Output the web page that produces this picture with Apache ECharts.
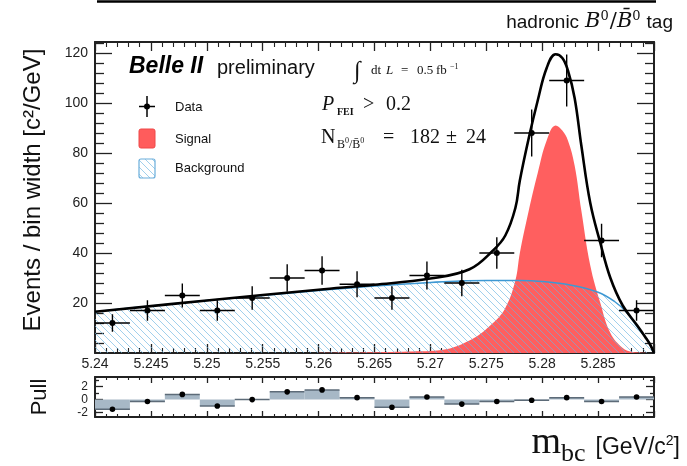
<!DOCTYPE html>
<html>
<head>
<meta charset="utf-8">
<script src="https://cdn.jsdelivr.net/npm/echarts@6/dist/echarts.min.js"></script>
<style>html,body{margin:0;background:#fff}#chart{width:687px;height:466px}</style>
</head>
<body>
<div id="chart"></div>
<script>
// m_bc histogram, 16 bins between 5.24 and 5.29 GeV/c^2
const binCenters = [5.24156, 5.24469, 5.24781, 5.25094, 5.25406, 5.25719, 5.26031, 5.26344,
  5.26656, 5.26969, 5.27281, 5.27594, 5.27906, 5.28219, 5.28531, 5.28844];
const binHalfWidth = 0.0015625;
const counts = [12, 17, 23, 17, 22, 30, 33, 27.5, 22, 31, 28, 40, 88, 109, 45, 17];
const countErrors = [3.5, 4.1, 4.8, 4.1, 4.7, 5.5, 5.7, 5.2, 4.7, 5.6, 5.3, 6.3, 9.4, 10.4, 6.7, 4.1];
const pulls = [-1.5, -0.3, 0.8, -1.0, 0.0, 1.2, 1.5, 0.3, -1.2, 0.4, -0.7, -0.3, -0.1, 0.3, -0.3, 0.4];

// fit curves
const bkgX = [5.24, 5.245, 5.25, 5.255, 5.26, 5.265, 5.27, 5.275, 5.278, 5.28, 5.2825, 5.285, 5.2865, 5.2875, 5.2885, 5.2892, 5.2897, 5.29];
const bkgY = [16.5, 18.8, 21.0, 23.0, 25.0, 26.8, 28.2, 29.0, 29.0, 28.6, 27.2, 24.3, 20.5, 16.5, 10.5, 6.5, 3.0, 0];
const sigX = [5.26, 5.265, 5.268, 5.2706, 5.2735, 5.2756, 5.2767, 5.2776, 5.278, 5.2788, 5.2796, 5.2804, 5.2812,
  5.2818, 5.2823, 5.2829, 5.2835, 5.2843, 5.2852, 5.2861, 5.2872, 5.288, 5.29];
const sigY = [0.1, 0.3, 0.6, 1.0, 5.0, 12.0, 18.0, 29.0, 40.0, 57.0, 72.0, 85.0, 91.0, 89.0, 85.0, 75.0, 57.0, 35.0, 20.0, 8.0, 2.0, 0.5, 0];
const totX = [5.24, 5.25, 5.26, 5.265, 5.27, 5.2735, 5.2756, 5.2767, 5.2776, 5.278, 5.2788, 5.2796, 5.2804, 5.2812,
  5.2818, 5.2823, 5.2829, 5.2835, 5.2843, 5.2852, 5.2861, 5.2872, 5.2885, 5.2892, 5.2897, 5.29];
const totY = [16.5, 21.0, 25.3, 27.3, 29.8, 33.5, 41.0, 47.0, 58.0, 69.0, 86.0, 101.0, 114.0, 119.5,
  118.0, 113.0, 102.0, 83.0, 60.0, 44.0, 30.0, 19.0, 11.0, 6.5, 3.0, 0];

// tick positions
const yMajor = [20, 40, 60, 80, 100, 120];
const yMinor = [4, 8, 12, 16, 24, 28, 32, 36, 44, 48, 52, 56, 64, 68, 72, 76, 84, 88, 92, 96, 104, 108, 112, 116, 124];
const pullMajor = [-2, 0, 2];
const pullMinor = [-1, 1, 3];

const SANS = '"Liberation Sans", Arial, sans-serif';
const SERIF = '"Liberation Serif", "DejaVu Serif", serif';
const WIDESERIF = '"DejaVu Serif", serif';
const ink = '#222';

function hatch(size) {
  const c = document.createElement('canvas');
  c.width = c.height = size;
  const g = c.getContext('2d');
  g.strokeStyle = 'rgba(105,180,225,0.7)';
  g.lineWidth = 0.9;
  g.beginPath();
  g.moveTo(0, 0); g.lineTo(size, size);
  g.moveTo(-2, size - 2); g.lineTo(2, size + 2);
  g.moveTo(size - 2, -2); g.lineTo(size + 2, 2);
  g.stroke();
  return c;
}
const hatchPattern = {image: hatch(7), repeat: 'repeat'};

function xAxisFor(gridIndex, position, labels) {
  return {
    type: 'value', gridIndex, position, min: 5.24, max: 5.29, interval: 0.005,
    axisLine: {onZero: false, lineStyle: {color: ink, width: 2}},
    axisTick: {inside: true, length: gridIndex ? 6 : 9, lineStyle: {color: ink, width: 1.3}},
    minorTick: {show: true, splitNumber: 5, length: gridIndex ? 3 : 5, lineStyle: {color: ink, width: 1.1}},
    axisLabel: {show: labels, margin: 4, fontSize: 14, color: ink, fontFamily: SANS, showMaxLabel: false,
      formatter: v => String(+v.toFixed(3))},
    splitLine: {show: false}
  };
}

function yAxisFor(gridIndex, position, min, max, ticks, len, labels, line) {
  return {
    type: 'value', gridIndex, position, min, max,
    axisLine: {show: line, onZero: false, lineStyle: {color: ink, width: 2}},
    axisTick: {inside: true, length: len, customValues: ticks, lineStyle: {color: ink, width: 1.3}},
    axisLabel: labels
      ? {show: true, customValues: ticks, margin: 7, fontSize: labels, color: ink, fontFamily: SANS}
      : {show: false},
    splitLine: {show: false}
  };
}

// text pieces placed on a common baseline
const meas = document.createElement('canvas').getContext('2d');
function fontOf(p) {
  return (p.style || 'normal') + ' ' + (p.weight || 'normal') + ' ' + p.size + 'px ' + (p.family || SANS);
}
function piece(x, base, p) {
  return {
    type: 'text', x, y: base + (p.dy || 0) + 0.15 * p.size, z: 100,
    style: {text: p.t, font: fontOf(p), fill: p.fill || '#111', align: 'left', verticalAlign: 'bottom'}
  };
}
function row(x, base, parts, rightAligned) {
  let w = 0;
  parts.forEach(p => { meas.font = fontOf(p); p.w = meas.measureText(p.t).width + (p.gap || 0); w += p.w; });
  let cx = rightAligned ? x - w : x;
  return parts.map(p => { const el = piece(cx, base, p); cx += p.w; return el; });
}

const graphics = [
  {type: 'line', z: 100, shape: {x1: 97, y1: 1.5, x2: 656, y2: 1.5}, style: {stroke: '#000', lineWidth: 2.5}},
  ...row(673, 29, [
    {t: 'hadronic', size: 19, gap: 6},
    {t: 'B', size: 21, family: WIDESERIF, style: 'italic'},
    {t: '0', size: 13, family: WIDESERIF, dy: -8, gap: 1},
    {t: '/', size: 21, family: WIDESERIF},
    {t: 'B\u0304', size: 21, family: WIDESERIF, style: 'italic'},
    {t: '0', size: 13, family: WIDESERIF, dy: -8, gap: 6},
    {t: 'tag', size: 19}
  ], true),
  piece(129, 75, {t: 'Belle II', size: 23, style: 'italic', weight: 'bold', fill: '#000'}),
  piece(217, 75, {t: 'preliminary', size: 20}),
  piece(354, 80, {t: '\u222B', size: 24, family: SERIF}),
  piece(371, 75, {t: 'dt', size: 13, family: SERIF}),
  piece(386, 75, {t: 'L', size: 13, family: SERIF, style: 'italic'}),
  piece(401, 75, {t: '=', size: 13, family: SERIF}),
  piece(417, 75, {t: '0.5', size: 13, family: SERIF}),
  piece(436, 75, {t: 'fb', size: 13, family: SERIF}),
  piece(450, 70, {t: '\u22121', size: 8, family: SERIF}),
  piece(322, 112, {t: 'P', size: 20, family: SERIF, style: 'italic'}),
  piece(337, 116, {t: 'FEI', size: 10, family: SERIF, weight: 'bold'}),
  piece(363, 112, {t: '>', size: 20, family: SERIF}),
  piece(386, 112, {t: '0.2', size: 20, family: SERIF}),
  piece(321, 145, {t: 'N', size: 20, family: SERIF}),
  ...row(337, 149, [
    {t: 'B', size: 12, family: SERIF},
    {t: '0', size: 8, family: SERIF, dy: -5},
    {t: '/', size: 12, family: SERIF},
    {t: 'B\u0304', size: 12, family: SERIF},
    {t: '0', size: 8, family: SERIF, dy: -5}
  ]),
  piece(383, 145, {t: '=', size: 20, family: SERIF}),
  piece(410, 145, {t: '182', size: 20, family: SERIF}),
  piece(446, 145, {t: '\u00B1', size: 20, family: SERIF}),
  piece(466, 145, {t: '24', size: 20, family: SERIF}),
  // legend
  {type: 'line', z: 100, shape: {x1: 139, y1: 106.5, x2: 155, y2: 106.5}, style: {stroke: '#000', lineWidth: 1.5}},
  {type: 'line', z: 100, shape: {x1: 147, y1: 96, x2: 147, y2: 117}, style: {stroke: '#000', lineWidth: 1.5}},
  {type: 'circle', z: 100, shape: {cx: 147, cy: 106.5, r: 3}, style: {fill: '#000'}},
  {type: 'rect', z: 100, shape: {x: 139, y: 129, width: 16, height: 19, r: 2}, style: {fill: '#ff5c5c', stroke: '#ee4848', lineWidth: 1}},
  {type: 'rect', z: 100, shape: {x: 139, y: 159, width: 16, height: 19, r: 2}, style: {fill: hatchPattern, stroke: '#6aaedb', lineWidth: 1.2}},
  piece(175, 112, {t: 'Data', size: 13}),
  piece(175, 144, {t: 'Signal', size: 13}),
  piece(175, 173, {t: 'Background', size: 13}),
  // axis titles
  {type: 'text', z: 100, x: 33, y: 190, rotation: Math.PI / 2,
    style: {text: 'Events / bin width [c\u00B2/GeV]', font: '24px ' + SANS, fill: '#111', align: 'center', verticalAlign: 'middle'}},
  {type: 'text', z: 100, x: 40, y: 397, rotation: Math.PI / 2,
    style: {text: 'Pull', font: '22px ' + SANS, fill: '#111', align: 'center', verticalAlign: 'middle'}},
  ...row(680, 456, [
    {t: 'm', size: 38, family: SERIF},
    {t: 'bc', size: 26, family: SERIF, dy: 7, gap: 10},
    {t: '[GeV/c', size: 23},
    {t: '2', size: 14, dy: -10},
    {t: ']', size: 23}
  ], true)
];

const chart = echarts.init(document.getElementById('chart'));

chart.setOption({
  animation: false,
  textStyle: {fontFamily: SANS},
  grid: [
    {left: 95, right: 33, top: 42, height: 311},
    {left: 95, right: 33, top: 377, height: 40}
  ],
  xAxis: [
    xAxisFor(0, 'bottom', true),
    xAxisFor(0, 'top', false),
    xAxisFor(1, 'bottom', false),
    xAxisFor(1, 'top', false)
  ],
  yAxis: [
    yAxisFor(0, 'left', 0, 124.4, yMajor, 17, 14, true),
    yAxisFor(0, 'left', 0, 124.4, yMinor, 9, 0, false),
    yAxisFor(0, 'right', 0, 124.4, yMajor, 17, 0, true),
    yAxisFor(0, 'right', 0, 124.4, yMinor, 9, 0, false),
    yAxisFor(1, 'left', -2.7, 3.5, pullMajor, 8, 12, true),
    yAxisFor(1, 'left', -2.7, 3.5, pullMinor, 4, 0, false),
    yAxisFor(1, 'right', -2.7, 3.5, pullMajor, 8, 0, true),
    yAxisFor(1, 'right', -2.7, 3.5, pullMinor, 4, 0, false)
  ],
  graphic: graphics,
  series: [
    {
      name: 'Signal', type: 'line', xAxisIndex: 0, yAxisIndex: 0, z: 2,
      data: sigX.map((x, i) => [x, sigY[i]]),
      smooth: 0.4, showSymbol: false,
      lineStyle: {width: 0}, areaStyle: {color: '#ff5f5f', opacity: 1}
    },
    {
      name: 'Background', type: 'line', xAxisIndex: 0, yAxisIndex: 0, z: 3,
      data: bkgX.map((x, i) => [x, bkgY[i]]),
      smooth: 0.4, showSymbol: false,
      lineStyle: {color: '#3d98d3', width: 1.5}, areaStyle: {color: hatchPattern, opacity: 1}
    },
    {
      name: 'Fit', type: 'line', xAxisIndex: 0, yAxisIndex: 0, z: 4,
      data: totX.map((x, i) => [x, totY[i]]),
      smooth: 0.4, showSymbol: false,
      lineStyle: {color: '#000', width: 2.6}
    },
    {
      name: 'Data', type: 'custom', xAxisIndex: 0, yAxisIndex: 0, z: 5,
      encode: {x: 0, y: 1},
      data: binCenters.map((x, i) => [x, counts[i], countErrors[i]]),
      renderItem: (params, api) => {
        const x = api.value(0), y = api.value(1), e = api.value(2);
        const c = api.coord([x, y]);
        const l = api.coord([x - binHalfWidth, y])[0], r = api.coord([x + binHalfWidth, y])[0];
        const t = api.coord([x, y + e])[1], b = api.coord([x, y - e])[1];
        return {type: 'group', children: [
          {type: 'line', shape: {x1: l, y1: c[1], x2: r, y2: c[1]}, style: {stroke: '#000', lineWidth: 1.4}},
          {type: 'line', shape: {x1: c[0], y1: t, x2: c[0], y2: b}, style: {stroke: '#000', lineWidth: 1.4}},
          {type: 'circle', shape: {cx: c[0], cy: c[1], r: 3}, style: {fill: '#000'}}
        ]};
      }
    },
    {
      name: 'Pull', type: 'custom', xAxisIndex: 2, yAxisIndex: 4, z: 5,
      encode: {x: 0, y: 1},
      data: binCenters.map((x, i) => [x, pulls[i]]),
      renderItem: (params, api) => {
        const x = api.value(0), p = api.value(1);
        const a = api.coord([x - binHalfWidth, 0]), b = api.coord([x + binHalfWidth, p]);
        const c = api.coord([x, p]);
        return {type: 'group', children: [
          {type: 'rect', shape: {x: a[0], y: Math.min(a[1], b[1]), width: b[0] - a[0], height: Math.abs(b[1] - a[1])},
            style: {fill: '#a7b8c6'}},
          {type: 'line', shape: {x1: a[0], y1: b[1], x2: b[0], y2: b[1]}, style: {stroke: '#5d6b78', lineWidth: 1.5}},
          {type: 'circle', shape: {cx: c[0], cy: c[1], r: 2.8}, style: {fill: '#000'}}
        ]};
      }
    }
  ]
});

window.addEventListener('resize', chart.resize);
</script>
</body>
</html>
